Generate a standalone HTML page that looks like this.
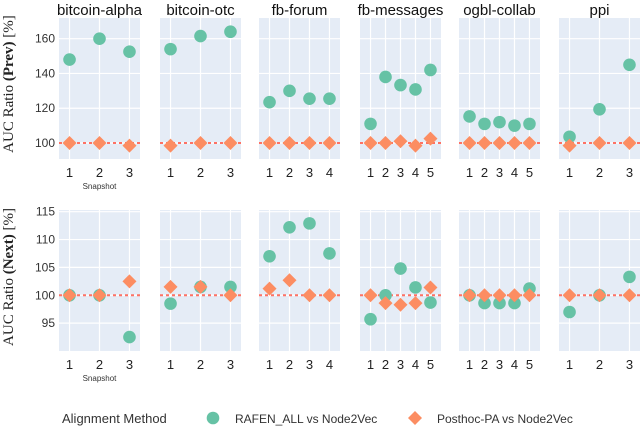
<!DOCTYPE html>
<html><head><meta charset="utf-8"><style>
body{margin:0;background:#fff;}
svg{display:block;font-family:"Liberation Sans",sans-serif;}
</style></head><body>
<svg id="chart" width="640" height="427" viewBox="0 0 640 427">
<text x="0" y="0" transform="translate(13,84) rotate(-90)" text-anchor="middle" font-family="Liberation Serif, serif" font-size="15" fill="#222">AUC Ratio <tspan font-weight="bold">(Prev)</tspan> [%]</text>
<text x="0" y="0" transform="translate(13,277) rotate(-90)" text-anchor="middle" font-family="Liberation Serif, serif" font-size="15" fill="#222">AUC Ratio <tspan font-weight="bold">(Next)</tspan> [%]</text>
<g font-size="12" fill="#333">
<text x="62" y="423" font-size="13">Alignment Method</text>
<circle cx="213" cy="418" r="6.3" fill="#66c2a5"/>
<text x="235" y="423">RAFEN_ALL vs Node2Vec</text>
<polygon points="415,411 422,418 415,425 408,418" fill="#fc8d62"/>
<text x="437" y="423">Posthoc-PA vs Node2Vec</text>
</g>
</svg>
<script>
const datasets = ["bitcoin-alpha","bitcoin-otc","fb-forum","fb-messages","ogbl-collab","ppi"];
const snapshotCounts = [3,3,4,5,5,3];
const rafenPrev = [[148,160,152.5],[154,161.5,164],[123.5,130,125.5,125.5],[111,138,133.3,130.8,142],[115.3,111,112,110,111],[103.6,119.4,145]];
const posthocPrev = [[100,100,98.5],[98.5,100,100],[100,100,100,100],[100,100,101,98.5,102.5],[100,100,100,100,100],[98.5,100,100]];
const rafenNext = [[100,100,92.5],[98.5,101.5,101.5],[107,112.2,112.9,107.5],[95.7,100,104.8,101.4,98.7],[100,98.6,98.6,98.6,101.2],[97,100,103.3]];
const posthocNext = [[100,100,102.5],[101.5,101.5,100],[101.2,102.7,100,100],[100,98.6,98.3,98.6,101.4],[100,100,100,100,100],[100,100,100]];
const prevTicks = [100,120,140,160];
const nextTicks = [95,100,105,110,115];

const NS="http://www.w3.org/2000/svg";
const svg=document.getElementById('chart');
function el(tag,attrs,parent){const e=document.createElementNS(NS,tag);for(const k in attrs)e.setAttribute(k,attrs[k]);(parent||svg).appendChild(e);return e;}
const panelX=[59,160,259,360,459,559], panelW=81;
const rows=[
 {top:18,bottom:159,dmin:90.8,dmax:171.9,ticks:prevTicks,rafen:rafenPrev,post:posthocPrev,name:'prev'},
 {top:210,bottom:351,dmin:90.0,dmax:115.3,ticks:nextTicks,rafen:rafenNext,post:posthocNext,name:'next'}
];
rows.forEach((r,ri)=>{
  const y=v=>r.bottom-(v-r.dmin)/(r.dmax-r.dmin)*(r.bottom-r.top);
  datasets.forEach((ds,pi)=>{
    const x0=panelX[pi], n=snapshotCounts[pi], pad=0.13*panelW;
    const x=s=>x0+pad+(s-1)*(panelW-2*pad)/(n-1);
    const g=el('g',{});
    
    
    const bg=el('rect',{x:x0,y:r.top,width:panelW,height:r.bottom-r.top,fill:'#e5ecf6'},g);
    
    
    r.ticks.forEach(t=>{const l=el('line',{x1:x0,x2:x0+panelW,y1:y(t),y2:y(t),stroke:'#fff','stroke-width':1.2},g);
      
      });
    for(let s=1;s<=n;s++){
      const l=el('line',{x1:x(s),x2:x(s),y1:r.top,y2:r.bottom,stroke:'#fff','stroke-width':1.2},g);
      
      
      const t=el('text',{x:x(s),y:r.bottom+18,'text-anchor':'middle','font-size':13,fill:'#222'},g);
      t.textContent=s;
      
      
    }
    const ref=el('line',{x1:x0,x2:x0+panelW,y1:y(100),y2:y(100),stroke:'#ff5a4a','stroke-width':2,'stroke-dasharray':'3,3',opacity:0.85},g);
    
    
    r.rafen[pi].forEach((v,i)=>{const c=el('circle',{cx:x(i+1),cy:y(v),r:6.3,fill:'#66c2a5'},g);
      
      });
    r.post[pi].forEach((v,i)=>{const cx=x(i+1),cy=y(v),d=7;
      const p=el('polygon',{points:`${cx},${cy-d} ${cx+d},${cy} ${cx},${cy+d} ${cx-d},${cy}`,fill:'#fc8d62'},g);
      
      });
    if(ri===0){const t=el('text',{x:x0+panelW/2,y:15,'text-anchor':'middle','font-size':15,fill:'#111'});
      t.textContent=ds;
      
      }
    if(pi===0){
      r.ticks.forEach(tv=>{const t=el('text',{x:x0-4,y:y(tv)+4,'text-anchor':'end','font-size':12,fill:'#333'});
        t.textContent=tv;
        
        });
      const s=el('text',{x:x0+panelW/2,y:r.bottom+30,'text-anchor':'middle','font-size':8,fill:'#333'});
      s.textContent='Snapshot';
      
      
    }
  });
});
</script>
</body></html>
